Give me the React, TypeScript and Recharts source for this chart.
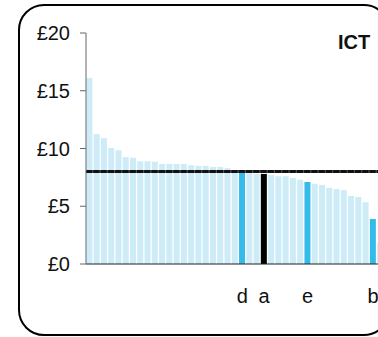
import { BarChart, Bar, Cell, XAxis, YAxis, ReferenceLine } from 'recharts';

// hourly pay, one bar per occupation, sorted high to low
const values = [
  16.1, 11.25, 10.9, 10.05, 9.85, 9.25, 9.2, 8.9, 8.9, 8.85,
  8.65, 8.65, 8.65, 8.65, 8.55, 8.5, 8.5, 8.4, 8.4, 8.3,
  8.1, 7.95, 7.85, 7.8, 7.8, 7.7, 7.6, 7.6, 7.45, 7.3,
  7.1, 6.95, 6.85, 6.6, 6.5, 6.4, 5.9, 5.8, 5.35, 3.9,
  1.8,
];

// marked bars: position in the list, label under the axis, colour
const markIndex = [21, 24, 30, 39];
const markLabels = ['d', 'a', 'e', 'b'];
const markColors = ['#35bbea', '#000000', '#35bbea', '#35bbea'];

const yTicks = [0, 5, 10, 15, 20];
const average = 8;

const BASE = '#cdecf8';
const FONT = '"Liberation Sans", Arial, sans-serif';

const data = values.map((value, i) => ({ id: i, value }));

export default function App() {
  const tickFont = { fontSize: 20, fill: '#111', fontFamily: FONT };

  return (
    <div
      style={{
        position: 'absolute',
        left: 0,
        top: 0,
        width: 378,
        height: 337,
        overflow: 'hidden',
        background: '#fff',
      }}
    >
      {/* rounded frame */}
      <div
        style={{
          position: 'absolute',
          left: 18,
          top: 4,
          width: 372,
          height: 332,
          border: '2.5px solid #000',
          borderRadius: 26,
          boxSizing: 'border-box',
        }}
      />

      <div style={{ position: 'absolute', left: 0, top: 0 }}>
        <BarChart
          width={400}
          height={337}
          data={data}
          margin={{ top: 33, right: 16, bottom: 0, left: 0 }}
          barCategoryGap={0.4}
        >
          <XAxis
            dataKey="id"
            height={73}
            interval={0}
            tickLine={false}
            tickSize={0}
            tickMargin={25}
            axisLine={{ stroke: '#222', strokeWidth: 1.2 }}
            tick={tickFont}
            tickFormatter={(v: number) => {
              const k = markIndex.indexOf(Number(v));
              return k >= 0 ? markLabels[k] : '';
            }}
          />
          <YAxis
            width={86}
            domain={[0, 20]}
            ticks={yTicks}
            interval={0}
            tickSize={6}
            tickMargin={10}
            axisLine={{ stroke: '#666' }}
            tickLine={{ stroke: '#666' }}
            tick={tickFont}
            tickFormatter={(v: number) => `£${v}`}
          />
          <Bar dataKey="value" isAnimationActive={false}>
            {data.map((d) => {
              const k = markIndex.indexOf(d.id);
              return <Cell key={`c-${d.id}`} fill={k >= 0 ? markColors[k] : BASE} />;
            })}
          </Bar>
          <ReferenceLine y={average} stroke="#555" strokeWidth={3} />
          <ReferenceLine y={average} stroke="#111" strokeWidth={3} strokeDasharray="6.2 1.07" />
        </BarChart>
      </div>

      <div
        style={{
          position: 'absolute',
          left: 338,
          top: 32,
          fontFamily: FONT,
          fontWeight: 'bold',
          fontSize: 20,
          lineHeight: '20px',
          color: '#111',
        }}
      >
        ICT
      </div>
    </div>
  );
}
